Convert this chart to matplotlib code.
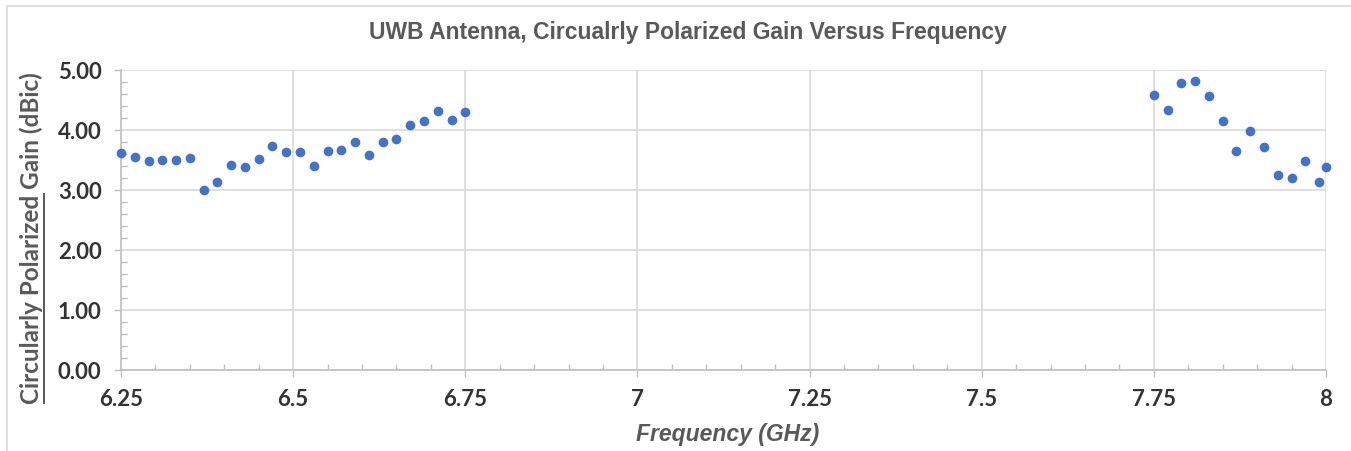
import matplotlib
matplotlib.use("Agg")
import matplotlib.pyplot as plt
from matplotlib.ticker import MultipleLocator, FuncFormatter
from matplotlib.patches import Rectangle
from matplotlib.lines import Line2D

# ---------------- data ----------------
freq_low = [6.25, 6.27, 6.29, 6.31, 6.33, 6.35, 6.37, 6.39, 6.41, 6.43, 6.45, 6.47, 6.49,
            6.51, 6.53, 6.55, 6.57, 6.59, 6.61, 6.63, 6.65, 6.67, 6.69, 6.71, 6.73, 6.75]
gain_low = [3.61, 3.55, 3.47, 3.49, 3.50, 3.53, 2.99, 3.12, 3.42, 3.37, 3.51, 3.72, 3.62,
            3.62, 3.40, 3.64, 3.67, 3.79, 3.58, 3.80, 3.85, 4.08, 4.15, 4.31, 4.16, 4.29]
freq_high = [7.75, 7.77, 7.79, 7.81, 7.83, 7.85, 7.87, 7.89, 7.91, 7.93, 7.95, 7.97, 7.99, 8.00]
gain_high = [4.57, 4.33, 4.78, 4.81, 4.56, 4.15, 3.64, 3.97, 3.71, 3.24, 3.20, 3.47, 3.13, 3.38]

title = "UWB Antenna, Circualrly Polarized Gain Versus Frequency"
xlabel = "Frequency (GHz)"
ylabel_underlined = "Circularly Polarized"
ylabel_rest = " Gain (dBic)"

# ---------------- styling ----------------
W, H, DPI = 1351, 452, 100
MARK = "#4472C4"
GRID = "#d9d9d9"
AXC = "#bfbfbf"
TXT = "#595959"
TICKC = "#333333"

fig = plt.figure(figsize=(W / DPI, H / DPI), dpi=DPI)
fig.patch.set_facecolor("white")

# chart-area border (top and left edges visible)
fig.add_artist(Rectangle((7 / W, -0.2), 2.0, (H - 7) / H + 0.2, transform=fig.transFigure,
                         facecolor="none", edgecolor=GRID, linewidth=1.2))

left, right = 121 / W, 1326 / W
bottom, top = (H - 370.7) / H, (H - 70.7) / H
ax = fig.add_axes([left, bottom, right - left, top - bottom])

ax.plot(freq_low + freq_high, gain_low + gain_high, linestyle="none", marker="o",
        markersize=7.0, color=MARK, markeredgewidth=0, zorder=3, clip_on=False)

ax.set_xlim(6.25, 8.0)
ax.set_ylim(0, 5)
ax.xaxis.set_major_locator(MultipleLocator(0.25))
ax.xaxis.set_minor_locator(MultipleLocator(0.05))
ax.yaxis.set_major_locator(MultipleLocator(1.0))
ax.yaxis.set_minor_locator(MultipleLocator(0.2))
ax.xaxis.set_major_formatter(FuncFormatter(lambda v, p: f"{v:g}"))
ax.yaxis.set_major_formatter(FuncFormatter(lambda v, p: f"{v:.2f}"))

ax.grid(True, which="major", color=GRID, linewidth=1.2, zorder=0)
ax.set_axisbelow(True)
for s in ["top", "right"]:
    ax.spines[s].set_visible(False)
for s in ["left", "bottom"]:
    ax.spines[s].set_color(AXC)
    ax.spines[s].set_linewidth(1.2)

ax.tick_params(which="major", direction="out", length=5, width=1, color=AXC,
               labelcolor=TICKC, labelsize=16)
ax.tick_params(which="minor", direction="in", length=4, width=1, color=AXC)
ax.tick_params(axis="x", which="major", pad=8)
ax.tick_params(axis="y", which="major", pad=9)
for lab in ax.get_xticklabels() + ax.get_yticklabels():
    lab.set_fontfamily("Lato")
    lab.set_fontweight("bold")

# title
fig.text(688 / W, 1 - 33 / H, title, ha="center", va="center", fontsize=16.5,
         fontweight="bold", color=TXT, family="Liberation Sans")
# x label
fig.text(728 / W, 1 - 435 / H, xlabel, ha="center", va="center", fontsize=16.5,
         fontweight="bold", fontstyle="italic", color=TXT, family="Liberation Sans")

# y label with underline under the first part
YFS = 17.5
yl = fig.text(31 / W, 1 - 238 / H, ylabel_underlined + ylabel_rest, rotation=90,
              ha="center", va="center", fontsize=YFS, fontweight="bold", color=TXT,
              family="Lato")
fig.canvas.draw()
r = fig.canvas.get_renderer()
full = yl.get_window_extent(r)
tmp = fig.text(0, 0, ylabel_underlined, rotation=90, fontsize=YFS, fontweight="bold",
               family="Lato")
part = tmp.get_window_extent(r)
tmp.remove()
ux = (full.x1 + 1) / W
fig.add_artist(Line2D([ux, ux], [full.y0 / H, (full.y0 + part.height) / H],
                      transform=fig.transFigure, color=TXT, linewidth=1.4))

fig.savefig("out.png", dpi=DPI, facecolor="white")
